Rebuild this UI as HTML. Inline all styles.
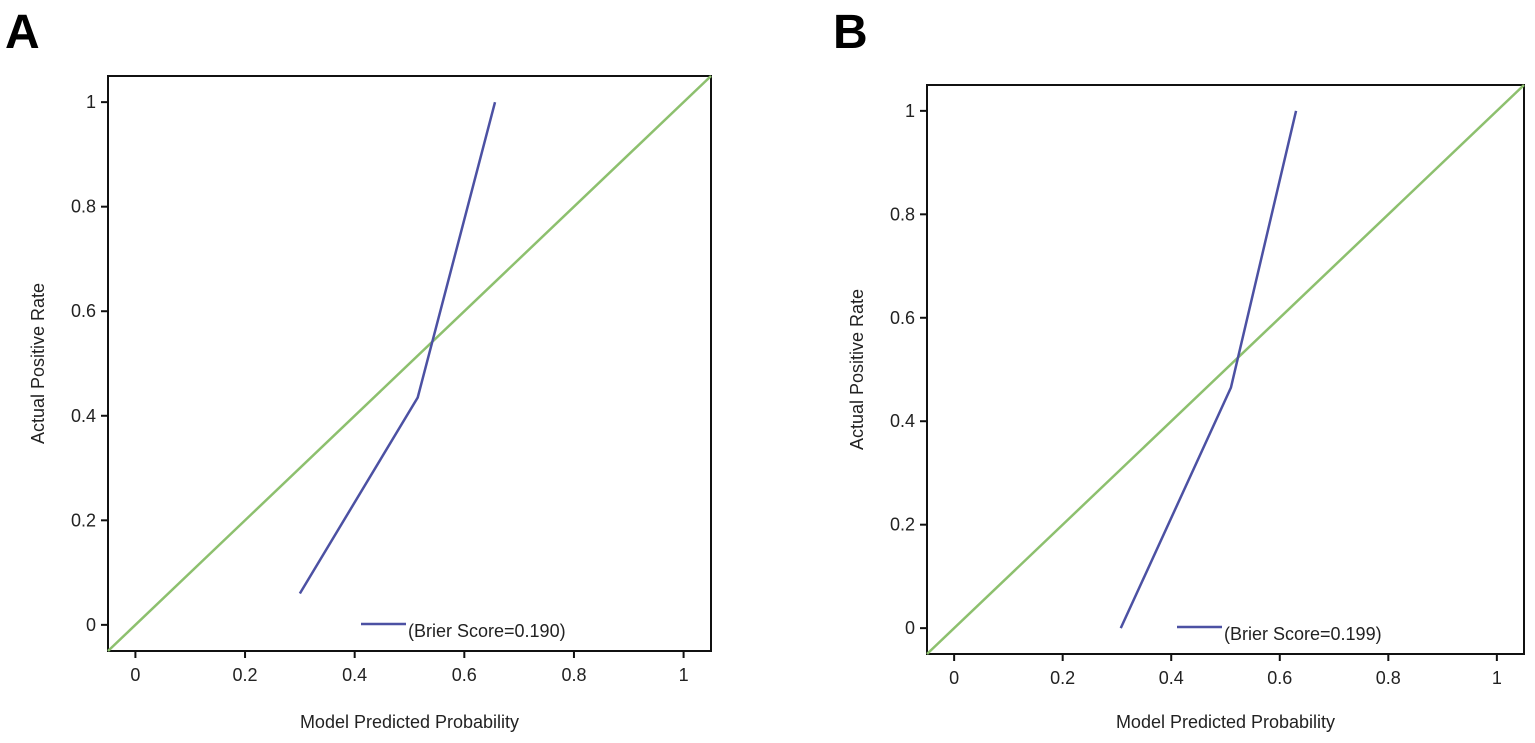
<!DOCTYPE html>
<html><head><meta charset="utf-8"><style>
body{margin:0;background:#fff;}
svg{display:block;font-family:"Liberation Sans","DejaVu Sans",sans-serif;}
</style></head><body>
<svg id="c" width="1535" height="743"></svg>
<script>
const xTicks=[0,0.2,0.4,0.6,0.8,1];
const yTicks=[0,0.2,0.4,0.6,0.8,1];
const tickLabels=["0","0.2","0.4","0.6","0.8","1"];
const seriesAX=[0.30,0.515,0.656];
const seriesAY=[0.06,0.435,1.0];
const seriesBX=[0.307,0.51,0.63];
const seriesBY=[0.0,0.465,1.0];
const brierA="(Brier Score=0.190)";
const brierB="(Brier Score=0.199)";
const svg=document.getElementById('c');
const NS="http://www.w3.org/2000/svg";
function mk(t,a,p){const e=document.createElementNS(NS,t);for(const k in a)e.setAttribute(k,a[k]);(p||svg).appendChild(e);return e;}
function panel(id,letter,lx,box,xs,ys,brier,leg){
 const g=mk('g',{});
 
 
 const [L,T,R,B]=box;
 const sx=v=>L+(v+0.05)/1.1*(R-L), sy=v=>B-(v+0.05)/1.1*(B-T);
 const lt=mk('text',{x:lx,y:48,'font-size':48,'font-weight':'bold'},g);lt.textContent=letter;
 
 
 const fr=mk('rect',{x:L,y:T,width:R-L,height:B-T,fill:'none',stroke:'#111','stroke-width':2},g);
 
 
 xTicks.forEach((v,i)=>{const x=sx(v);mk('line',{x1:x,x2:x,y1:B,y2:B+7,stroke:'#111','stroke-width':2},g);
  const t=mk('text',{x:x,y:B+30,'font-size':18,'text-anchor':'middle',fill:'#222'},g);t.textContent=tickLabels[i];
  
  });
 yTicks.forEach((v,i)=>{const y=sy(v);mk('line',{x1:L-7,x2:L,y1:y,y2:y,stroke:'#111','stroke-width':2},g);
  const t=mk('text',{x:L-12,y:y+6,'font-size':18,'text-anchor':'end',fill:'#222'},g);t.textContent=tickLabels[i];
  
  });
 const xt=mk('text',{x:(L+R)/2,y:728,'font-size':18,'text-anchor':'middle',fill:'#222'},g);xt.textContent="Model Predicted Probability";
 
 
 const cy=(T+B)/2, tx=L-64;
 const yt=mk('text',{x:tx,y:cy,'font-size':18,'text-anchor':'middle',fill:'#222',transform:`rotate(-90 ${tx} ${cy})`},g);yt.textContent="Actual Positive Rate";
 
 
 const d=mk('line',{x1:sx(-0.05),y1:sy(-0.05),x2:sx(1.05),y2:sy(1.05),stroke:'#8dc06e','stroke-width':2.5},g);
 
 
 const pl=mk('polyline',{points:xs.map((v,i)=>sx(v)+','+sy(ys[i])).join(' '),fill:'none',stroke:'#4c51a3','stroke-width':2.5},g);
 
 
 const ll=mk('line',{x1:leg[0],x2:leg[0]+45,y1:leg[1],y2:leg[1],stroke:'#4c51a3','stroke-width':2.5},g);
 
 
 const lx2=mk('text',{x:leg[0]+47,y:leg[1]+13,'font-size':18,fill:'#222'},g);lx2.textContent=brier;
 
 
}
panel('a','A',5,[108,76,711,651],seriesAX,seriesAY,brierA,[361,624]);
panel('b','B',833,[927,85,1524,654],seriesBX,seriesBY,brierB,[1177,627]);
</script>
</body></html>
